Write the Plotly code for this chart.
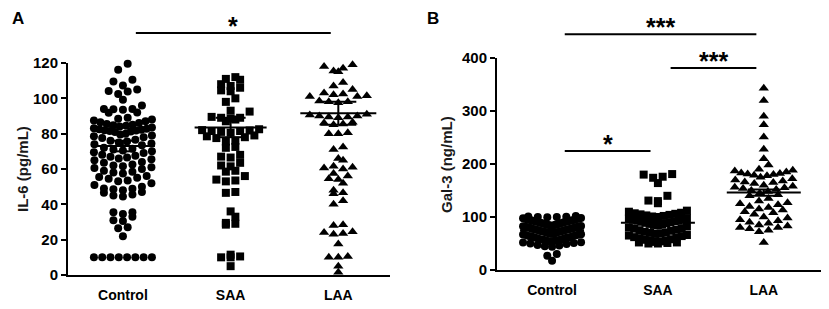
import plotly.graph_objects as go
import numpy as np

# ---------------- data ----------------
groups = ["Control", "SAA", "LAA"]

il6_control = [119.6, 116.2, 110.5, 109.5, 107.2, 105.0, 104.2, 103.8, 102.5, 99.2, 96.0, 94.0, 94.0, 93.5,
               93.8, 92.0, 91.8,
               89.0, 88.5, 88.0, 87.5, 87.0,
               86.5, 86.0, 85.5, 85.0, 84.8, 84.5, 84.0,
               83.5, 83.0, 82.8, 82.5, 82.2, 82.0, 81.8, 81.5, 81.2, 81.0,
               80.0, 79.5, 79.0, 78.5, 78.0, 77.5,
               76.5, 76.0, 75.5, 75.0, 74.5, 74.0, 73.5,
               72.0, 71.5, 71.0, 70.5, 70.0, 69.5, 69.0,
               68.0, 67.5, 67.0, 66.5, 66.0, 65.5, 65.0,
               64.0, 63.5, 62.5, 62.0, 61.5, 61.0,
               60.5, 60.0, 59.0, 58.5, 58.0, 57.5,
               56.0, 55.5, 55.0, 54.5, 53.5, 53.0,
               52.0, 51.0, 50.0, 49.0, 48.8, 48.5, 48.0,
               47.0, 46.5, 45.5, 45.0, 44.5,
               35.5, 35.5, 34.5, 33.0, 31.0, 30.5, 27.0, 26.5, 22.0,
               10, 10, 10, 10, 10, 10, 10, 10]
il6_saa = [112, 111, 110.5, 108, 107, 106, 104.5, 104, 100, 98,
           93, 92.5, 89.5, 89, 89, 88.5, 88, 87,
           82.5, 82, 81.8, 81.5, 81.5, 81, 80.5,
           79, 78.5, 78, 77.5, 76, 75.5, 72.5, 72,
           68, 67, 66.5, 63.5, 62, 61.5, 59, 58.5, 56, 54, 53.5, 53, 47, 46.5,
           36, 33, 29.5, 29, 28.5, 11.5, 10.5, 10, 10, 5]
il6_laa = [119, 118, 117, 115.5, 115, 109, 107, 105, 103, 102.5, 102, 101.5, 101, 101, 98.5, 98, 98, 97.5,
           91, 90.5, 90, 90, 89.5, 89.5, 89, 86.5, 86, 85.5, 85, 80.5, 80, 80,
           72.5, 71, 66, 65, 61.5, 61, 60.5, 60, 57.5, 56, 54.5, 54, 52, 48, 46.5, 46, 42, 40,
           28.5, 28, 24.5, 24, 23.5, 23, 17.5, 10.5, 10, 10, 5, 1.5]
il6_mean = [73, 83.5, 91.5]
il6_sem = [3.0, 5.5, 6.5]

gal3_control = [102, 101, 100.5, 100, 100, 99.5,
                98, 97.5, 97, 96.5, 96, 95.5, 95, 95,
                94, 93.5, 93, 92.5, 92, 91.5, 91, 90.5, 90,
                89, 88.5, 88, 87.5, 87, 86.5, 86, 85.5, 85,
                84, 83.5, 83, 82.5, 82, 81.5, 81, 80.5, 80, 80,
                79, 78.5, 78, 77.5, 77, 76.5, 76, 75.5, 75,
                74, 73.5, 73, 72.5, 72, 71.5, 71, 70.5, 70,
                69, 68.5, 68, 67.5, 67, 66.5, 66, 65,
                64, 63.5, 63, 62, 61.5, 61, 60,
                59, 58, 57.5, 57, 56, 55.5, 55,
                54, 53, 52.5, 52, 51, 50,
                49, 47, 46, 45, 44,
                30, 27, 17.5]
gal3_saa = [181, 180, 176, 174, 164, 140, 131, 130, 126,
            112, 110, 108, 107, 106, 105, 104, 103, 102, 101, 100,
            98, 97, 96, 95, 94, 93, 92, 91, 90, 89, 88, 87, 86, 85,
            84, 82, 80, 79, 78, 76, 75, 74, 72, 71, 70,
            69, 68, 66, 65, 64, 62, 61, 60, 58, 57, 56, 55,
            54, 53, 52, 52, 51, 50, 50]
gal3_laa = [343, 320, 290, 274, 251, 228, 210, 198,
            190, 188, 187, 185, 183, 182, 181, 180, 179, 178,
            175, 172, 170, 168, 166, 165, 163, 160, 158, 156, 155, 154, 152, 150, 148, 145, 142, 140,
            135, 130, 127, 125, 123, 120, 118, 115, 113, 110, 108, 105, 100, 98, 95, 93, 90, 88, 85, 83,
            80, 80, 78, 75, 72, 52]
gal3_mean = [75, 89, 146]
gal3_sem = [1.5, 3.5, 6.0]

il6_ticks = [0, 20, 40, 60, 80, 100, 120]
gal3_ticks = [0, 100, 200, 300, 400]

# significance comparisons: (group i, group j, height in axis units, label)
sig_a = [(0, 2, 137, "*")]
sig_b = [(0, 2, 445, "***"), (1, 2, 381, "***"), (0, 1, 224.5, "*")]

# ---------------- layout geometry ----------------
# the page body has an 8 px margin, so the figure starts 8 px into the window
OFF = 8
W, H = 829 - OFF, 309 - OFF
FONT = "Liberation Sans, Arial, sans-serif"


def PX(xw):  # window x pixel -> paper fraction
    return (xw - OFF) / W


def PY(yw):  # window y pixel -> paper fraction
    return 1 - (yw - OFF) / H


panels = {
    "A": dict(xdom=[PX(68), PX(390)], ydom=[PY(275), PY(63)],
              xr=[-0.51, 2.48], yr=[0, 120], title="IL-6 (pg/mL)", tx=22, label="A", lx=11),
    "B": dict(xdom=[PX(497), PX(822)], ydom=[PY(270), PY(58)],
              xr=[-0.52, 2.55], yr=[0, 400], title="Gal-3 (ng/mL)", tx=446, label="B", lx=426),
}


def px_per_unit(p):
    xp = (p["xdom"][1] - p["xdom"][0]) * W / (p["xr"][1] - p["xr"][0])
    yp = (p["ydom"][1] - p["ydom"][0]) * H / (p["yr"][1] - p["yr"][0])
    return xp, yp


def swarm(values, center, p, bin_px=8.0, spacing=9.5, max_half=29.0):
    xp, yp = px_per_unit(p)
    vals = np.asarray(values, float)
    keys = np.round(vals * yp / bin_px).astype(int)
    xs = np.zeros_like(vals)
    for k in np.unique(keys):
        idx = np.where(keys == k)[0]
        idx = idx[np.argsort(vals[idx])]
        n = len(idx)
        s = spacing
        if n > 1 and (n - 1) * s > 2 * max_half:
            s = 2 * max_half / (n - 1)
        offs = (np.arange(n) - (n - 1) / 2) * s
        order = np.argsort(np.abs(offs), kind="stable")
        for j, o in zip(idx, offs[order]):
            xs[j] = center + o / xp
    return xs, vals


def to_paper(p, xd, yd):
    px = p["xdom"][0] + (xd - p["xr"][0]) / (p["xr"][1] - p["xr"][0]) * (p["xdom"][1] - p["xdom"][0])
    py = p["ydom"][0] + (yd - p["yr"][0]) / (p["yr"][1] - p["yr"][0]) * (p["ydom"][1] - p["ydom"][0])
    return px, py


fig = go.Figure()
symbols = ["circle", "square", "triangle-up"]
msizes = [8, 8, 9]

datasets = {
    "A": ([il6_control, il6_saa, il6_laa], il6_mean, il6_sem, "x", "y", [32, 36, 38], [12, 15, 18]),
    "B": ([gal3_control, gal3_saa, gal3_laa], gal3_mean, gal3_sem, "x2", "y2", [32, 37, 37], [12, 14, 16]),
}

shapes = []
annotations = []
for name, (series, means, sems, xa, ya, mhalf, whalf) in datasets.items():
    p = panels[name]
    xp, yp = px_per_unit(p)
    for gi, vals in enumerate(series):
        xs, ys = swarm(vals, gi, p)
        fig.add_trace(go.Scatter(x=xs, y=ys, mode="markers", xaxis=xa, yaxis=ya,
                                 marker=dict(symbol=symbols[gi], size=msizes[gi], color="black",
                                             line=dict(width=0)),
                                 cliponaxis=False, showlegend=False, hoverinfo="y"))
        m, s = means[gi], sems[gi]
        mh, wh = mhalf[gi] / xp, whalf[gi] / xp
        lx = [gi - mh, gi + mh, None, gi, gi, None, gi - wh, gi + wh, None, gi - wh, gi + wh]
        ly = [m, m, None, m - s, m + s, None, m + s, m + s, None, m - s, m - s]
        fig.add_trace(go.Scatter(x=lx, y=ly, mode="lines", xaxis=xa, yaxis=ya,
                                 line=dict(color="black", width=2), showlegend=False,
                                 hoverinfo="skip"))

for name, sigs in (("A", sig_a), ("B", sig_b)):
    p = panels[name]
    for i, j, yv, lab in sigs:
        x0, yy = to_paper(p, i + 0.12, yv)
        x1, _ = to_paper(p, j - 0.07, yv)
        shapes.append(dict(type="line", xref="paper", yref="paper", x0=x0, x1=x1, y0=yy, y1=yy,
                           line=dict(color="black", width=2)))
        annotations.append(dict(xref="paper", yref="paper", x=(x0 + x1) / 2, y=yy, text=lab,
                                showarrow=False, xanchor="center", yanchor="bottom", yshift=-9,
                                font=dict(family=FONT, size=25, color="black", weight="bold")))

for name, p in panels.items():
    annotations.append(dict(xref="paper", yref="paper", x=PX(p["lx"]), y=1.0, text=p["label"],
                            showarrow=False, xanchor="left", yanchor="top", borderpad=0,
                            font=dict(family=FONT, size=17, color="black", weight="bold")))
    annotations.append(dict(xref="paper", yref="paper", x=PX(p["tx"]),
                            y=(p["ydom"][0] + p["ydom"][1]) / 2, text=p["title"], textangle=-90,
                            showarrow=False, xanchor="center", yanchor="middle",
                            font=dict(family=FONT, size=15, color="#1a1a1a", weight="bold")))

tickfont = dict(family=FONT, size=15, color="black", weight="bold")
xtickfont = dict(family=FONT, size=14, color="black", weight="bold")


def xaxis(p, anchor):
    return dict(domain=p["xdom"], range=p["xr"], tickvals=[0, 1, 2], ticktext=groups,
                showline=True, linecolor="black", linewidth=2, ticks="", showgrid=False,
                zeroline=False, tickfont=xtickfont, ticklabelstandoff=6, fixedrange=True,
                automargin=False, anchor=anchor)


def yaxis(p, ticks, anchor):
    return dict(domain=p["ydom"], range=p["yr"], tickvals=ticks, showline=True, linecolor="black",
                linewidth=2, ticks="outside", ticklen=5, tickwidth=2, tickcolor="black",
                showgrid=False, zeroline=False, tickfont=tickfont, anchor=anchor,
                fixedrange=True, automargin=False)


fig.update_layout(
    width=W, height=H, margin=dict(l=0, r=0, t=0, b=0, autoexpand=False),
    paper_bgcolor="white", plot_bgcolor="white",
    xaxis=xaxis(panels["A"], "y"),
    yaxis=yaxis(panels["A"], il6_ticks, "x"),
    xaxis2=xaxis(panels["B"], "y2"),
    yaxis2=yaxis(panels["B"], gal3_ticks, "x2"),
    shapes=shapes, annotations=annotations,
)

fig.write_html("out.html")
